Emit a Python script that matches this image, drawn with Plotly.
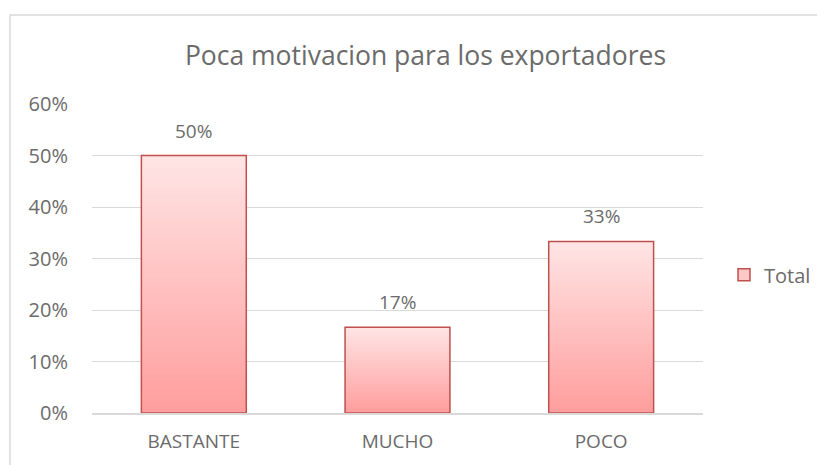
import plotly.graph_objects as go

categories = ["BASTANTE", "MUCHO", "POCO"]
values = [0.50, 0.1667, 0.3333]
series_name = "Total"
chart_title = "Poca motivacion para los exportadores"

TEXT = "#6b6b6b"
GRID = "#D9D9D9"
EDGE = "#C0504D"
TOP_RGB = (255, 228, 228)
BOTTOM_RGB = (255, 158, 158)
STEPS = 40

# the page body adds an 8px offset, so the figure is 8px smaller than the window
W, H = 817, 457
L, R, T, B = 84, 122, 96, 52.3
PW, PH = W - L - R, H - T - B

fig = go.Figure()

# gradient fill: stacked overlays, tallest (lightest) first
for k in range(STEPS):
    frac = (STEPS - k) / STEPS
    t = k / (STEPS - 1)
    rgb = [round(a + (b - a) * t) for a, b in zip(TOP_RGB, BOTTOM_RGB)]
    fig.add_trace(go.Bar(
        x=categories,
        y=[v * frac for v in values],
        marker=dict(color=f"rgb({rgb[0]},{rgb[1]},{rgb[2]})", line=dict(width=0)),
        showlegend=False,
        hoverinfo="skip",
    ))

# outline
fig.add_trace(go.Bar(
    x=categories,
    y=values,
    name=series_name,
    marker=dict(color="rgba(0,0,0,0)", line=dict(color=EDGE, width=1.5)),
    showlegend=False,
    hovertemplate="%{x}: %{y:.0%}<extra></extra>",
))
# legend entry only
fig.add_trace(go.Bar(
    x=categories,
    y=[None] * len(categories),
    name=series_name,
    marker=dict(color="#FFC8C8", line=dict(color=EDGE, width=1.5)),
    showlegend=True,
))

for c, v in zip(categories, values):
    fig.add_annotation(
        x=c, y=v, text=f"{v:.0%}", showarrow=False,
        yanchor="bottom", yshift=10,
        font=dict(family="Open Sans", size=19, color=TEXT),
    )

# outer chart frame
fig.add_shape(
    type="rect", xref="paper", yref="paper",
    x0=(2 - L) / PW, x1=(W + 20 - L) / PW,
    y0=-(B + 20) / PH, y1=1 + (T - 7) / PH,
    line=dict(color=GRID, width=1.5), fillcolor="rgba(0,0,0,0)", layer="below",
)

fig.update_layout(
    width=W, height=H,
    barmode="overlay",
    bargap=0.485,
    title=dict(
        text=chart_title, xref="container", x=0.511, xanchor="center",
        yref="container", y=1 - 48 / H, yanchor="middle",
        font=dict(family="Open Sans", size=26.5, color=TEXT),
    ),
    font=dict(family="Open Sans", size=20, color=TEXT),
    paper_bgcolor="white", plot_bgcolor="white",
    margin=dict(l=L, r=R, t=T, b=B),
    showlegend=True,
    legend=dict(
        xref="container", x=716 / W, xanchor="left",
        yref="container", y=1 - 266.7 / H, yanchor="middle",
        font=dict(family="Open Sans", size=20, color=TEXT),
        itemwidth=30,
    ),
)
fig.update_xaxes(
    showline=True, linecolor=GRID, linewidth=1.5,
    showgrid=False, ticks="", ticklabelstandoff=10, automargin=False,
    tickfont=dict(family="Open Sans", size=19, color=TEXT),
)
fig.update_yaxes(
    range=[0, 0.6002], dtick=0.1, tickformat=".0%",
    showgrid=True, gridcolor=GRID, gridwidth=1, automargin=False,
    zeroline=False, ticks="", ticklabelstandoff=23,
    tickfont=dict(family="Open Sans", size=20, color=TEXT),
)

fig.write_html("out.html")
